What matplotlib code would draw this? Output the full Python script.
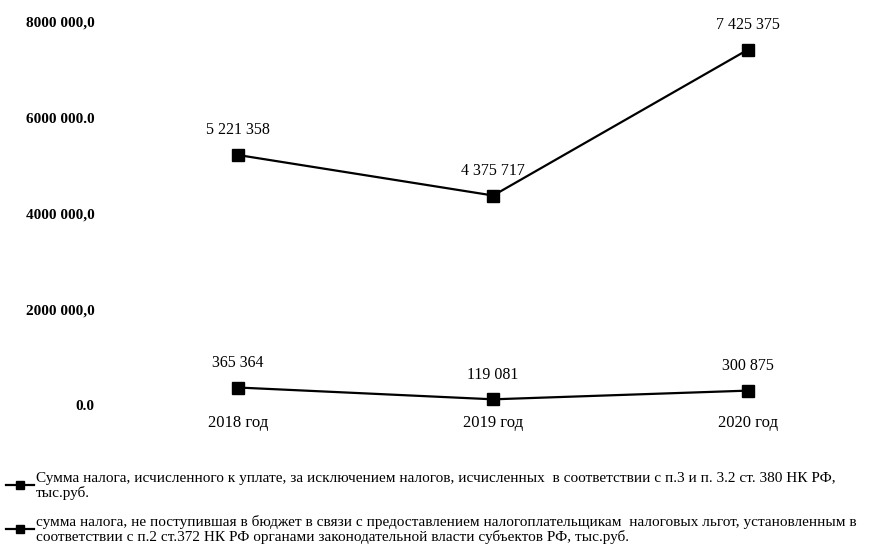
import matplotlib.pyplot as plt
from matplotlib.lines import Line2D

years = ['2018 год', '2019 год', '2020 год']
tax_total = [5221358, 4375717, 7425375]
tax_benefits = [365364, 119081, 300875]
value_labels_total = ['5 221 358', '4 375 717', '7 425 375']
value_labels_benefits = ['365 364', '119 081', '300 875']
y_ticks = [0, 2000000, 4000000, 6000000, 8000000]
y_tick_labels = ['0.0', '2000 000,0', '4000 000,0', '6000 000.0', '8000 000,0']
legend_labels = [
    'Сумма налога, исчисленного к уплате, за исключением налогов, исчисленных  в соответствии с п.3 и п. 3.2 ст. 380 НК РФ,\nтыс.руб.',
    'сумма налога, не поступившая в бюджет в связи с предоставлением налогоплательщикам  налоговых льгот, установленным в\nсоответствии с п.2 ст.372 НК РФ органами законодательной власти субъектов РФ, тыс.руб.',
]

plt.rcParams['font.family'] = ['Liberation Serif', 'DejaVu Serif']

fig = plt.figure(figsize=(8.74, 5.5), dpi=100)
ax = fig.add_axes([0.11, 0.2636, 0.84, 0.6964])

x = list(range(len(years)))
for vals, labels in [(tax_total, value_labels_total), (tax_benefits, value_labels_benefits)]:
    ax.plot(x, vals, color='black', linewidth=1.6, marker='s', markersize=9, clip_on=False)
    for xi, v, t in zip(x, vals, labels):
        ax.annotate(t, (xi, v), xytext=(0, 12), textcoords='offset points',
                    ha='center', va='bottom', fontsize=11.5)

ax.set_ylim(0, 8000000)
ax.set_xlim(-0.557, 2.322)
ax.set_yticks(y_ticks)
ax.set_yticklabels(y_tick_labels, fontsize=11, fontweight='bold')
ax.set_xticks(x)
ax.set_xticklabels(years, fontsize=12)
ax.tick_params(axis='both', length=0)
ax.tick_params(axis='y', pad=1)
ax.tick_params(axis='x', pad=7)
for s in ax.spines.values():
    s.set_visible(False)

handles = [Line2D([], [], color='black', marker='s', markersize=6, linewidth=1.6) for _ in legend_labels]
leg = fig.legend(handles, legend_labels, loc='lower left', bbox_to_anchor=(0.0, 0.0),
                 frameon=False, fontsize=11, handlelength=1.8, handletextpad=0.15,
                 labelspacing=1.0, borderaxespad=0.0)
for t in leg.get_texts():
    t.set_linespacing(1.08)

fig.savefig('out.png', dpi=100)
